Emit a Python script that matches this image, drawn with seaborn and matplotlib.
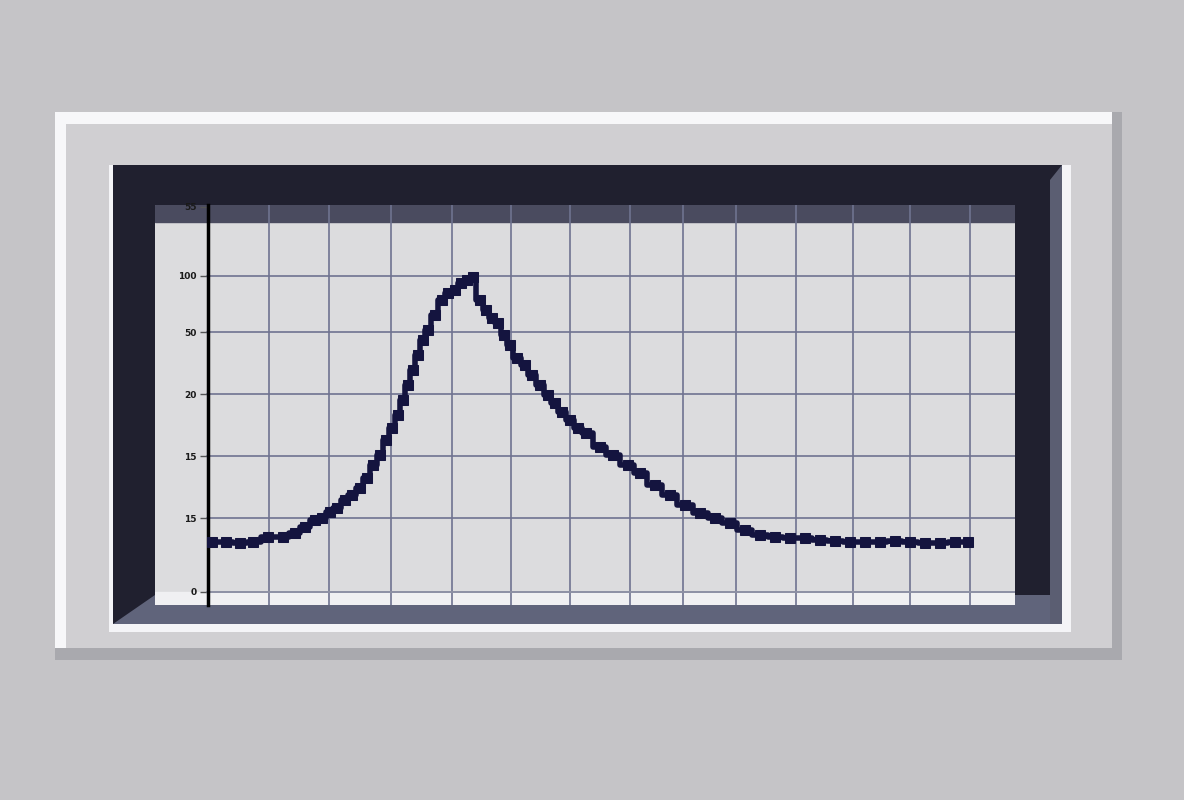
import matplotlib
matplotlib.use("Agg")
import matplotlib.pyplot as plt
from matplotlib.patches import Rectangle, Polygon
import seaborn as sns
import pandas as pd

# ---- data ----
x_vals = [0.07, 0.31, 0.55, 0.78, 1.02, 1.28, 1.48, 1.66, 1.83, 1.95, 2.08, 2.20, 2.34, 2.46,
          2.59, 2.71, 2.82, 2.94, 3.04, 3.14, 3.24, 3.33, 3.41, 3.50, 3.58, 3.67, 3.75, 3.87,
          3.99, 4.10, 4.22, 4.32, 4.42, 4.52, 4.64, 4.74, 4.85, 4.95, 5.05, 5.15, 5.27, 5.41,
          5.53, 5.67, 5.80, 5.92, 6.04, 6.18, 6.31, 6.45, 6.69, 6.91, 7.17, 7.37, 7.63, 7.88,
          8.14, 8.40, 8.65, 8.91, 9.16, 9.42, 9.68, 9.93, 10.19, 10.44, 10.70, 10.96, 11.21,
          11.47, 11.72, 11.98, 12.24, 12.49, 12.75, 12.97]
y_vals = [0.81, 0.81, 0.79, 0.81, 0.89, 0.89, 0.95, 1.05, 1.16, 1.19, 1.29, 1.35, 1.48, 1.56,
          1.68, 1.84, 2.05, 2.21, 2.45, 2.65, 2.85, 3.10, 3.34, 3.58, 3.82, 4.06, 4.23, 4.47,
          4.71, 4.82, 4.87, 4.98, 5.03, 5.08, 4.71, 4.55, 4.42, 4.34, 4.15, 3.98, 3.77, 3.66,
          3.50, 3.34, 3.18, 3.05, 2.90, 2.77, 2.65, 2.56, 2.34, 2.21, 2.05, 1.92, 1.73, 1.56,
          1.40, 1.27, 1.19, 1.11, 1.00, 0.92, 0.89, 0.87, 0.87, 0.84, 0.82, 0.81, 0.81,
          0.81, 0.82, 0.81, 0.79, 0.79, 0.81, 0.81]
y_tick_pos = [0, 1.19, 2.19, 3.19, 4.19, 5.1, 6.21]
y_tick_labels = ["0", "15", "15", "20", "50", "100", "55"]
x_grid = [1.04, 2.06, 3.12, 4.16, 5.17, 6.18, 7.20, 8.11, 9.01, 10.03, 11.01, 11.98, 13.0]

df = pd.DataFrame({"x": x_vals, "y": y_vals})

W, H = 1184, 800
sns.set_theme(style="white")
fig = plt.figure(figsize=(W / 100, H / 100), dpi=100)
fig.patch.set_facecolor("#c5c4c7")


def R(x0, y0, x1, y1, color, z=-5):
    fig.add_artist(Rectangle((x0 / W, 1 - y1 / H), (x1 - x0) / W, (y1 - y0) / H,
                             transform=fig.transFigure, facecolor=color,
                             edgecolor="none", zorder=z))


def P(pts, color, z=-4):
    fig.add_artist(Polygon([(px / W, 1 - py / H) for px, py in pts], closed=True,
                           transform=fig.transFigure, facecolor=color,
                           edgecolor="none", zorder=z))


# outer frame
R(55, 112, 1122, 660, "#a9a9ae", -9)          # shadow
R(55, 112, 1112, 648, "#f7f7f9", -8)          # white bevel
R(66, 124, 1112, 648, "#d0cfd2", -7)          # inner panel
# dark navy box
R(109, 165, 1071, 632, "#f4f4f7", -6)         # white strip
R(113, 165, 1062, 624, "#20202f", -5)
P([(1050, 180), (1062, 165), (1062, 624), (1050, 624)], "#5b5e72")
P([(113, 624), (155, 595), (1050, 595), (1050, 624)], "#60647b")

# axes
ax = fig.add_axes([155 / W, 1 - 605 / H, (1015 - 155) / W, (605 - 205) / H])
ax.set_facecolor("#dcdcde")
ax.set_xlim(-0.9, 13.77)
ax.set_ylim(-0.21, 6.24)
ax.axhspan(5.97, 6.24, color="#4a4b5f", zorder=0)
ax.axhspan(-0.21, 0, color="#f0f0f2", zorder=0)

for g in x_grid:
    ax.axvline(g, color="#6f7390", lw=1.2, zorder=1)
for t in y_tick_pos[1:6]:
    ax.axhline(t, xmin=0.06, color="#6f7390", lw=1.2, zorder=1)
ax.axhline(0, xmin=0.06, color="#8d90a4", lw=1.4, zorder=1)

sns.lineplot(data=df, x="x", y="y", ax=ax, color="#14143f", lw=4,
             drawstyle="steps-mid", marker="s", markersize=6.5,
             markeredgecolor="#14143f", zorder=3)

for s in ["top", "right", "bottom"]:
    ax.spines[s].set_visible(False)
ax.spines["left"].set_position(("data", 0))
ax.spines["left"].set_color("black")
ax.spines["left"].set_linewidth(2.5)
ax.set_xticks([])
ax.set_yticks(y_tick_pos)
ax.set_yticklabels(y_tick_labels, fontsize=6.5, fontweight="bold", color="#1a1a1a")
ax.tick_params(axis="y", length=6, width=1, color="#555555", pad=2, left=True)
ax.set_xlabel("")
ax.set_ylabel("")

fig.savefig("out.png", dpi=100, facecolor=fig.get_facecolor())
